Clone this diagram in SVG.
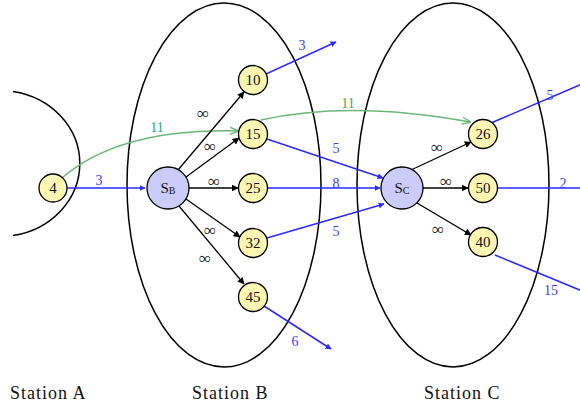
<svg xmlns="http://www.w3.org/2000/svg" width="580" height="410" viewBox="0 0 580 410">
<style>
.st{fill:none;stroke:#000;stroke-width:1.5}
.n{fill:#fdf7b4;stroke:#000;stroke-width:1.3}
.s{fill:#ccccfa;stroke:#000;stroke-width:1.3}
.t{font-family:"Liberation Serif",serif;font-size:15px;text-anchor:middle;fill:#111}
.sub{font-size:10px}
.b{fill:none;stroke:#2a2aff;stroke-width:1.5}
.k{fill:none;stroke:#000;stroke-width:1.3}
.g{fill:none;stroke:#6cb878;stroke-width:1.5}
.bl{font-family:"Liberation Serif",serif;font-size:14px;fill:#3b3bff;text-anchor:middle}
.gl{font-family:"Liberation Serif",serif;font-size:14px;fill:#2faa5a;text-anchor:middle}
.inf{font-family:"Liberation Serif",serif;font-size:17px;fill:#222;text-anchor:middle}
.lab{font-family:"Liberation Serif",serif;font-size:18px;letter-spacing:1px;fill:#111}
</style>
<defs>
<marker id="ab" viewBox="0 0 10 10" refX="9" refY="5" markerWidth="6" markerHeight="6" markerUnits="userSpaceOnUse" orient="auto"><path d="M0,0L10,5L0,10z" fill="#2a2aff"/></marker>
<marker id="ak" viewBox="0 0 10 10" refX="9" refY="5" markerWidth="7" markerHeight="7" markerUnits="userSpaceOnUse" orient="auto"><path d="M0,0L10,5L0,10z" fill="#000"/></marker>
<marker id="ag" viewBox="0 0 10 10" refX="9" refY="5" markerWidth="9" markerHeight="9" markerUnits="userSpaceOnUse" orient="auto"><path d="M0,1L10,5L0,9" fill="none" stroke="#6cb878" stroke-width="1.5"/></marker>
</defs>

<g id="stations">
<path class="st" d="M13,91.5 A80,73 0 0 1 13,235.5"/>
<ellipse class="st" cx="224" cy="185" rx="97" ry="182"/>
<ellipse class="st" cx="453" cy="185" rx="96" ry="182"/>
</g>

<g id="connectors">
<path class="b" d="M67,188 L145,188" marker-end="url(#ab)"/>
<path class="g" d="M62,178 Q120,128 238,131" marker-end="url(#ag)"/>
<path class="g" d="M261,120 Q350,100 470,122" marker-end="url(#ag)"/>
<path class="k" d="M178,170 L244,92" marker-end="url(#ak)"/>
<path class="k" d="M186,177 L239,138" marker-end="url(#ak)"/>
<path class="k" d="M189,188 L238,188" marker-end="url(#ak)"/>
<path class="k" d="M186,199 L240,237" marker-end="url(#ak)"/>
<path class="k" d="M179,206 L244,284" marker-end="url(#ak)"/>
<path class="k" d="M411,170 L471,142" marker-end="url(#ak)"/>
<path class="k" d="M423,188 L468,188" marker-end="url(#ak)"/>
<path class="k" d="M417,203 L471,235" marker-end="url(#ak)"/>
<path class="b" d="M266,74 L336,42" marker-end="url(#ab)"/>
<path class="b" d="M267,139 L383,178" marker-end="url(#ab)"/>
<path class="b" d="M268,188 L380,188" marker-end="url(#ab)"/>
<path class="b" d="M267,238 L384,204" marker-end="url(#ab)"/>
<path class="b" d="M264,306 L331,349" marker-end="url(#ab)"/>
<path class="b" d="M491,123 L582,84"/>
<path class="b" d="M498,188 L582,188"/>
<path class="b" d="M495,255 L582,291"/>
<text class="bl" x="99" y="185">3</text>
<text class="gl" x="157" y="132">11</text>
<text class="gl" x="348" y="108">11</text>
<text class="inf" x="203" y="119">∞</text>
<text class="inf" x="210" y="152">∞</text>
<text class="inf" x="214" y="187">∞</text>
<text class="inf" x="210" y="236">∞</text>
<text class="inf" x="205" y="264">∞</text>
<text class="inf" x="437" y="153">∞</text>
<text class="inf" x="446" y="187">∞</text>
<text class="inf" x="438" y="235">∞</text>
<text class="bl" x="302" y="50">3</text>
<text class="bl" x="336" y="153">5</text>
<text class="bl" x="336" y="188">8</text>
<text class="bl" x="336" y="236">5</text>
<text class="bl" x="295" y="346">6</text>
<text class="bl" x="550" y="100">5</text>
<text class="bl" x="563" y="188">2</text>
<text class="bl" x="551" y="295">15</text>
</g>

<g id="n4"><circle class="n" cx="53" cy="188" r="14"/><text class="t" x="53" y="193">4</text></g>
<g id="SB"><circle class="s" cx="168" cy="188" r="21"/><text class="t" x="168" y="193">S<tspan class="sub" dy="1">B</tspan></text></g>
<g id="n10"><circle class="n" cx="253" cy="80" r="14.5"/><text class="t" x="253" y="85">10</text></g>
<g id="n15"><circle class="n" cx="253" cy="134" r="14.5"/><text class="t" x="253" y="139">15</text></g>
<g id="n25"><circle class="n" cx="253" cy="188" r="14.5"/><text class="t" x="253" y="193">25</text></g>
<g id="n32"><circle class="n" cx="253" cy="243" r="14.5"/><text class="t" x="253" y="248">32</text></g>
<g id="n45"><circle class="n" cx="253" cy="297" r="14.5"/><text class="t" x="253" y="302">45</text></g>
<g id="SC"><circle class="s" cx="402" cy="188" r="21"/><text class="t" x="402" y="193">S<tspan class="sub" dy="1">C</tspan></text></g>
<g id="n26"><circle class="n" cx="483" cy="134" r="14.5"/><text class="t" x="483" y="139">26</text></g>
<g id="n50"><circle class="n" cx="483" cy="188" r="14.5"/><text class="t" x="483" y="193">50</text></g>
<g id="n40"><circle class="n" cx="483" cy="242" r="14.5"/><text class="t" x="483" y="247">40</text></g>

<g id="labels">
<text class="lab" x="10" y="399">Station A</text>
<text class="lab" x="192" y="399">Station B</text>
<text class="lab" x="424" y="399">Station C</text>
</g>
</svg>
